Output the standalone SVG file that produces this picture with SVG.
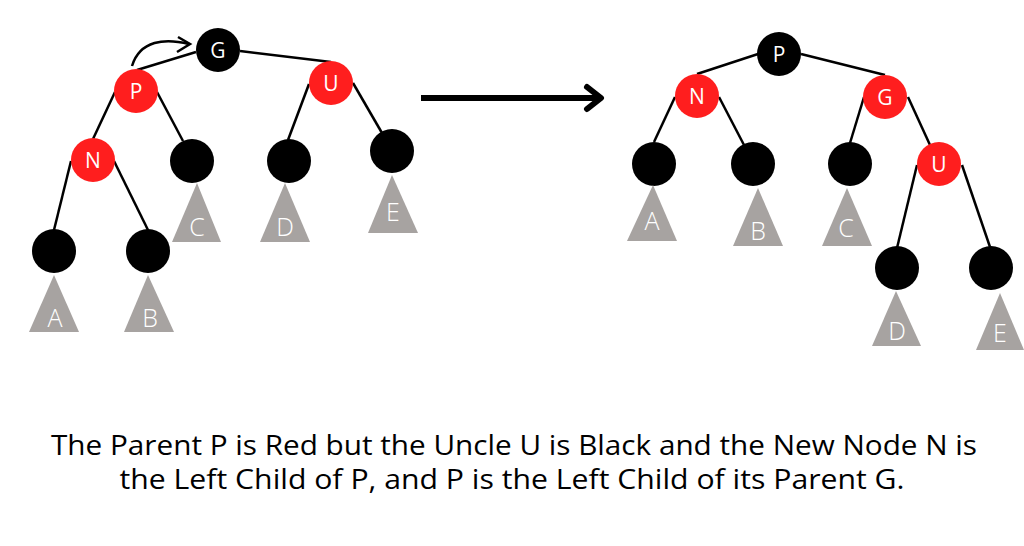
<svg xmlns="http://www.w3.org/2000/svg" width="1024" height="546" viewBox="0 0 1024 546">
<style>
.blk{fill:#000}
.red{fill:#FF1E1E}
.tri{fill:#A7A3A1}
.lbl{font-family:"Open Sans","Liberation Sans",sans-serif;font-size:21px;fill:#fff;text-anchor:middle}
.tl{font-family:"Open Sans","Liberation Sans",sans-serif;font-size:25px;fill:#fff;text-anchor:middle;font-weight:300}
.edge{stroke:#000;stroke-width:2.5;fill:none}
.cap{font-family:"Open Sans","Liberation Sans",sans-serif;font-size:27px;fill:#000;text-anchor:middle}
</style>
<rect width="1024" height="546" fill="#fff"/>
<g id="connectors">
  <line class="edge" x1="196" y1="52" x2="137" y2="70"/>
  <line class="edge" x1="240" y1="51" x2="331" y2="62"/>
  <line class="edge" x1="115" y1="92" x2="93" y2="139"/>
  <line class="edge" x1="157" y1="92" x2="183" y2="141"/>
  <line class="edge" x1="309" y1="84" x2="288" y2="140"/>
  <line class="edge" x1="353" y1="83" x2="382" y2="133"/>
  <line class="edge" x1="71" y1="161" x2="54" y2="230"/>
  <line class="edge" x1="114" y1="161" x2="148" y2="230"/>
  <path class="edge" d="M132,66 C140,40 165,38 189,44"/>
  <path class="edge" d="M178,37 L190,44 L177,52"/>
  <line x1="421" y1="98" x2="600" y2="98" stroke="#000" stroke-width="6"/>
  <path d="M587,87 L601,98 L587,109" stroke="#000" stroke-width="6" fill="none" stroke-linecap="round" stroke-linejoin="round"/>
  <line class="edge" x1="758" y1="54" x2="697" y2="74"/>
  <line class="edge" x1="801" y1="54" x2="885" y2="75"/>
  <line class="edge" x1="675" y1="97" x2="654" y2="142"/>
  <line class="edge" x1="719" y1="97" x2="744" y2="145"/>
  <line class="edge" x1="864" y1="97" x2="850" y2="143"/>
  <line class="edge" x1="908" y1="97" x2="930" y2="145"/>
  <line class="edge" x1="917" y1="165" x2="897" y2="248"/>
  <line class="edge" x1="962" y1="165" x2="990" y2="247"/>
</g>
<g id="left-tree">
  <g id="L-G"><circle class="blk" cx="218" cy="50" r="22"/><text class="lbl" x="218" y="57.5">G</text></g>
  <g id="L-P"><circle class="red" cx="136" cy="91" r="22"/><text class="lbl" x="136" y="98.5">P</text></g>
  <g id="L-U"><circle class="red" cx="331" cy="83" r="22"/><text class="lbl" x="331" y="90.5">U</text></g>
  <g id="L-N"><circle class="red" cx="93" cy="160" r="22"/><text class="lbl" x="93" y="167.5">N</text></g>
  <g id="L-C"><circle class="blk" cx="192" cy="161" r="22"/><polygon class="tri" points="197,183 172,242 221,242"/><text class="tl" x="197" y="236">C</text></g>
  <g id="L-D"><circle class="blk" cx="289" cy="161" r="22"/><polygon class="tri" points="285,183 260,242 310,242"/><text class="tl" x="285" y="236">D</text></g>
  <g id="L-E"><circle class="blk" cx="392" cy="151" r="22"/><polygon class="tri" points="392,175 368,233 418,233"/><text class="tl" x="393" y="221">E</text></g>
  <g id="L-A"><circle class="blk" cx="54" cy="251" r="22"/><polygon class="tri" points="54,275 29,332 79,332"/><text class="tl" x="55" y="327">A</text></g>
  <g id="L-B"><circle class="blk" cx="148" cy="251" r="22"/><polygon class="tri" points="148,275 124,332 174,332"/><text class="tl" x="150" y="327">B</text></g>
</g>
<g id="right-tree">
  <g id="R-P"><circle class="blk" cx="779" cy="54" r="22"/><text class="lbl" x="779" y="61.5">P</text></g>
  <g id="R-N"><circle class="red" cx="697" cy="96" r="22"/><text class="lbl" x="697" y="103.5">N</text></g>
  <g id="R-G"><circle class="red" cx="885" cy="97" r="22"/><text class="lbl" x="885" y="104.5">G</text></g>
  <g id="R-A"><circle class="blk" cx="654" cy="164" r="22"/><polygon class="tri" points="653,185 627,241 677,241"/><text class="tl" x="652" y="230">A</text></g>
  <g id="R-B"><circle class="blk" cx="753" cy="164" r="22"/><polygon class="tri" points="758,188 733,246 783,246"/><text class="tl" x="758" y="240">B</text></g>
  <g id="R-C"><circle class="blk" cx="850" cy="164" r="22"/><polygon class="tri" points="847,188 822,246 872,246"/><text class="tl" x="846" y="237">C</text></g>
  <g id="R-U"><circle class="red" cx="939" cy="164" r="22"/><text class="lbl" x="939" y="171.5">U</text></g>
  <g id="R-D"><circle class="blk" cx="897" cy="268" r="22"/><polygon class="tri" points="896,291 872,346 921,346"/><text class="tl" x="897" y="340">D</text></g>
  <g id="R-E"><circle class="blk" cx="991" cy="268" r="22"/><polygon class="tri" points="1000,293 976,350 1024,350"/><text class="tl" x="1000" y="342">E</text></g>
</g>
<g id="caption">
  <text class="cap" x="514" y="455" textLength="926" lengthAdjust="spacingAndGlyphs">The Parent P is Red but the Uncle U is Black and the New Node N is</text>
  <text class="cap" x="512" y="489" textLength="785" lengthAdjust="spacingAndGlyphs">the Left Child of P, and P is the Left Child of its Parent G.</text>
</g>
</svg>
